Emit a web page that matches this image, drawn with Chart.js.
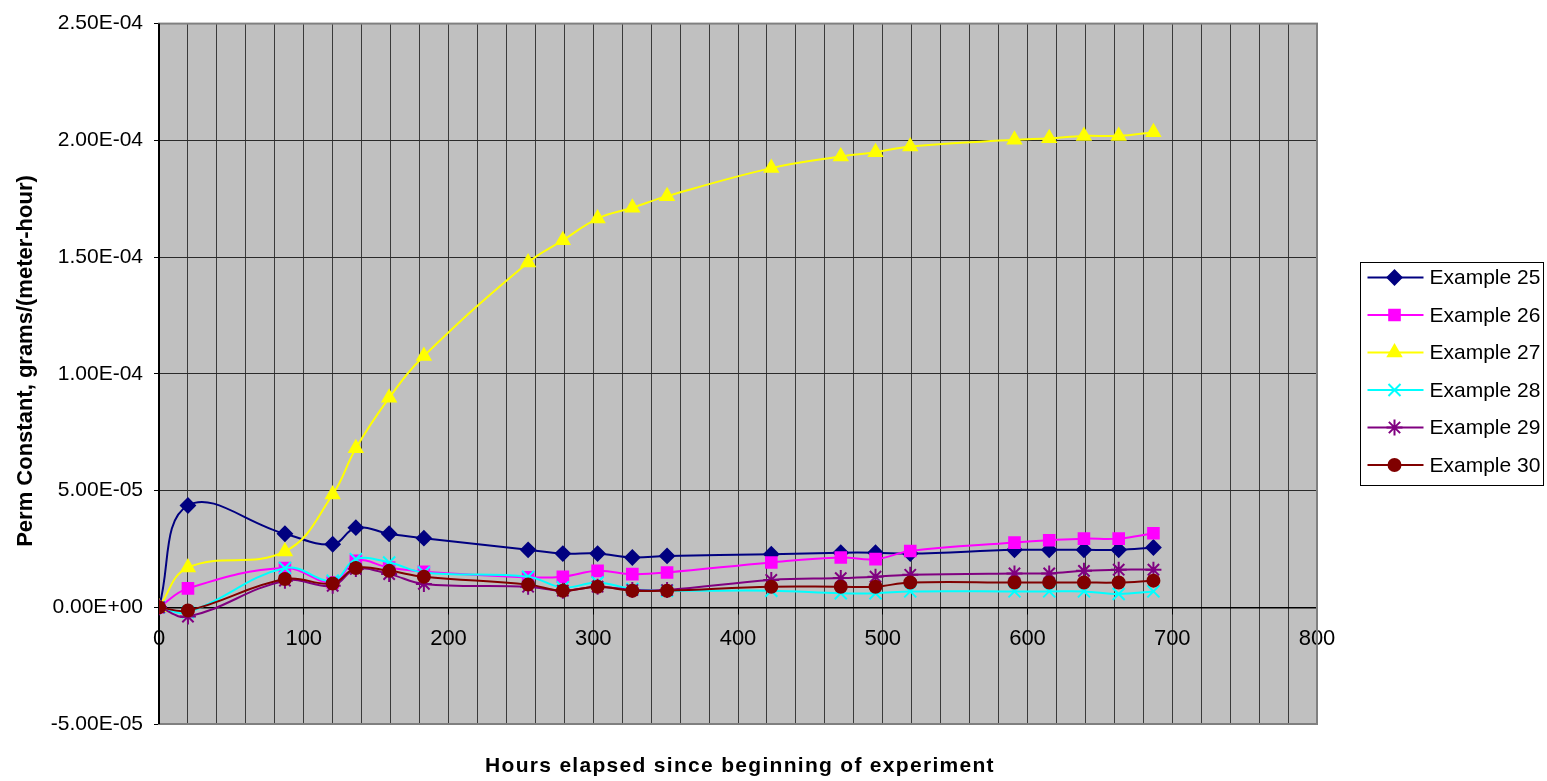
<!DOCTYPE html>
<html>
<head>
<meta charset="utf-8">
<title>Perm Constant</title>
<script src="https://cdn.jsdelivr.net/npm/chart.js"></script>
<style>
  html, body { margin: 0; padding: 0; background: #fff; }
  #wrap { width: 1547px; height: 781px; position: relative; }
</style>
</head>
<body>
<div id="wrap"><canvas id="permChart"></canvas></div>
<script>
// hours elapsed (x) shared by every series
const hours = [0, 20, 87, 120, 136, 159, 183, 255, 279, 303, 327, 351, 423, 471, 495, 519, 591, 615, 639, 663, 687];

// perm constant, grams/(meter-hour)
const example25 = [0, 4.36e-5, 3.15e-5, 2.70e-5, 3.41e-5, 3.15e-5, 2.96e-5, 2.46e-5, 2.30e-5, 2.30e-5, 2.13e-5, 2.20e-5, 2.27e-5, 2.34e-5, 2.34e-5, 2.30e-5, 2.46e-5, 2.46e-5, 2.46e-5, 2.46e-5, 2.56e-5];
const example26 = [0, 0.81e-5, 1.68e-5, 1.06e-5, 1.99e-5, 1.70e-5, 1.52e-5, 1.28e-5, 1.31e-5, 1.56e-5, 1.42e-5, 1.49e-5, 1.92e-5, 2.13e-5, 2.06e-5, 2.41e-5, 2.77e-5, 2.87e-5, 2.94e-5, 2.94e-5, 3.17e-5];
const example27 = [0, 1.70e-5, 2.39e-5, 4.83e-5, 6.81e-5, 8.97e-5, 10.76e-5, 14.77e-5, 15.72e-5, 16.65e-5, 17.11e-5, 17.61e-5, 18.81e-5, 19.31e-5, 19.49e-5, 19.74e-5, 20.02e-5, 20.09e-5, 20.19e-5, 20.19e-5, 20.35e-5];
const example28 = [0, -0.21e-5, 1.68e-5, 1.14e-5, 2.06e-5, 1.92e-5, 1.49e-5, 1.31e-5, 0.85e-5, 1.06e-5, 0.78e-5, 0.71e-5, 0.71e-5, 0.60e-5, 0.60e-5, 0.68e-5, 0.68e-5, 0.68e-5, 0.68e-5, 0.57e-5, 0.68e-5];
const example29 = [0, -0.40e-5, 1.14e-5, 0.92e-5, 1.64e-5, 1.42e-5, 1.00e-5, 0.88e-5, 0.71e-5, 0.88e-5, 0.74e-5, 0.74e-5, 1.17e-5, 1.25e-5, 1.31e-5, 1.39e-5, 1.45e-5, 1.45e-5, 1.56e-5, 1.61e-5, 1.61e-5];
const example30 = [0, -0.14e-5, 1.21e-5, 1.02e-5, 1.68e-5, 1.56e-5, 1.31e-5, 0.97e-5, 0.71e-5, 0.88e-5, 0.71e-5, 0.71e-5, 0.88e-5, 0.88e-5, 0.88e-5, 1.06e-5, 1.06e-5, 1.06e-5, 1.06e-5, 1.06e-5, 1.14e-5];

const seriesNames = ['Example 25', 'Example 26', 'Example 27', 'Example 28', 'Example 29', 'Example 30'];
const seriesValues = [example25, example26, example27, example28, example29, example30];

// axis ranges
const xMin = 0, xMax = 800, xStep = 20, xLabelEvery = 100;
const yMin = -5e-5, yMax = 2.5e-4, yStep = 5e-5;

const xTitle = 'Hours elapsed since beginning of experiment';
const yTitle = 'Perm Constant, grams/(meter-hour)';

// excel-ish marker styles
const looks = [
  { color: '#000080', point: 'rectRot', radius: 7 },
  { color: '#FF00FF', point: 'rect', radius: 7.5 },
  { color: '#FFFF00', point: 'triangle', radius: 7.5 },
  { color: '#00FFFF', point: 'crossRot', radius: 8.5 },
  { color: '#800080', point: 'star', radius: 8 },
  { color: '#800000', point: 'circle', radius: 6 }
];

function sciLabel(v) {
  if (Math.abs(v) < 1e-15) return '0.00E+00';
  const parts = v.toExponential(2).split('e');
  const ex = parseInt(parts[1], 10);
  return parts[0] + 'E' + (ex < 0 ? '-' : '+') + String(Math.abs(ex)).padStart(2, '0');
}

const plotBack = {
  id: 'plotBack',
  beforeDraw(chart) {
    const a = chart.chartArea, ctx = chart.ctx;
    ctx.save();
    ctx.fillStyle = '#C0C0C0';
    ctx.fillRect(a.left, a.top, a.right - a.left, a.bottom - a.top);
    ctx.restore();
  },
  beforeDatasetsDraw(chart) {
    const a = chart.chartArea, ctx = chart.ctx;
    ctx.save();
    ctx.strokeStyle = '#808080';
    ctx.lineWidth = 2;
    ctx.strokeRect(a.left, a.top, a.right - a.left, a.bottom - a.top);
    ctx.strokeStyle = '#000';
    ctx.beginPath();
    ctx.moveTo(a.left, a.top);
    ctx.lineTo(a.left, a.bottom);
    ctx.stroke();
    ctx.restore();
  }
};

const titles = {
  id: 'titles',
  afterDraw(chart) {
    const a = chart.chartArea, ctx = chart.ctx;
    ctx.save();
    ctx.fillStyle = '#000';
    ctx.textAlign = 'center';
    ctx.textBaseline = 'alphabetic';
    ctx.font = 'bold 21px "Liberation Sans", Arial, sans-serif';
    ctx.letterSpacing = '1.3px';
    ctx.fillText(xTitle, (a.left + a.right) / 2 + 2, 772);
    ctx.translate(32, 361);
    ctx.rotate(-Math.PI / 2);
    ctx.font = 'bold 22px "Liberation Sans", Arial, sans-serif';
    ctx.letterSpacing = '0px';
    ctx.fillText(yTitle, 0, 0);
    ctx.restore();
  }
};

const boxLegend = {
  id: 'boxLegend',
  afterDraw(chart) {
    const ctx = chart.ctx;
    const left = chart.chartArea.right + 43.5, top = 262.5, w = 183, h = 223;
    ctx.save();
    ctx.fillStyle = '#fff';
    ctx.fillRect(left, top, w, h);
    ctx.strokeStyle = '#000';
    ctx.lineWidth = 1;
    ctx.strokeRect(left, top, w, h);
    chart.data.datasets.forEach((ds, i) => {
      const y = top + 15 + i * 37.5;
      ctx.strokeStyle = ds.borderColor;
      ctx.lineWidth = 2;
      ctx.beginPath();
      ctx.moveTo(left + 7, y);
      ctx.lineTo(left + 63, y);
      ctx.stroke();
      ctx.fillStyle = ds.pointBackgroundColor;
      ctx.strokeStyle = ds.pointBorderColor;
      ctx.lineWidth = ds.pointBorderWidth;
      if (Chart.helpers && Chart.helpers.drawPoint) {
        Chart.helpers.drawPoint(ctx, {
          pointStyle: ds.pointStyle, radius: ds.pointRadius,
          borderWidth: ds.pointBorderWidth, rotation: 0
        }, left + 34, y);
      }
      ctx.fillStyle = '#000';
      ctx.font = '21px "Liberation Sans", Arial, sans-serif';
      ctx.textAlign = 'left';
      ctx.textBaseline = 'middle';
      ctx.fillText(ds.label, left + 69, y + 1);
    });
    ctx.restore();
  }
};

Chart.defaults.font.family = '"Liberation Sans", Arial, sans-serif';
Chart.defaults.color = '#000';

// later series sit on top, like in excel
const datasets = seriesNames.map((name, i) => ({
  label: name,
  order: seriesNames.length - i,
  data: hours.map((h, j) => ({ x: h, y: seriesValues[i][j] })),
  borderColor: looks[i].color,
  backgroundColor: looks[i].color,
  borderWidth: 2,
  tension: 0.4,
  pointStyle: looks[i].point,
  pointRadius: looks[i].radius,
  pointHoverRadius: looks[i].radius,
  pointBackgroundColor: looks[i].color,
  pointBorderColor: looks[i].color,
  pointBorderWidth: 2,
  fill: false
}));

new Chart(document.getElementById('permChart'), {
  type: 'line',
  data: { datasets: datasets },
  options: {
    responsive: true,
    maintainAspectRatio: false,
    animation: false,
    layout: { padding: { left: 0, right: 230, top: 20, bottom: 57 } },
    plugins: {
      legend: { display: false },
      tooltip: { enabled: false }
    },
    scales: {
      x: {
        type: 'linear',
        position: { y: 0 },
        min: xMin,
        max: xMax,
        afterFit(scale) { scale.height = 0; },
        ticks: {
          stepSize: xStep,
          autoSkip: false,
          maxRotation: 0,
          padding: 12,
          font: { size: 22 },
          callback: v => (v % xLabelEvery === 0 ? String(v) : '')
        },
        grid: {
          color: '#3a3a3a',
          lineWidth: 1,
          tickLength: 6,
          tickColor: c => (c.tick && c.tick.value % xLabelEvery === 0 ? '#000' : 'rgba(0,0,0,0)')
        },
        border: { color: '#000', width: 1.5 }
      },
      y: {
        type: 'linear',
        min: yMin,
        max: yMax,
        afterFit(scale) { scale.width = 159; },
        ticks: {
          stepSize: yStep,
          padding: 11,
          font: { size: 21 },
          callback: v => sciLabel(v)
        },
        grid: {
          color: '#2a2a2a',
          lineWidth: 1,
          tickLength: 5,
          tickColor: '#000'
        },
        border: { color: '#000', width: 2 }
      }
    }
  },
  plugins: [plotBack, titles, boxLegend]
});
</script>
</body>
</html>
